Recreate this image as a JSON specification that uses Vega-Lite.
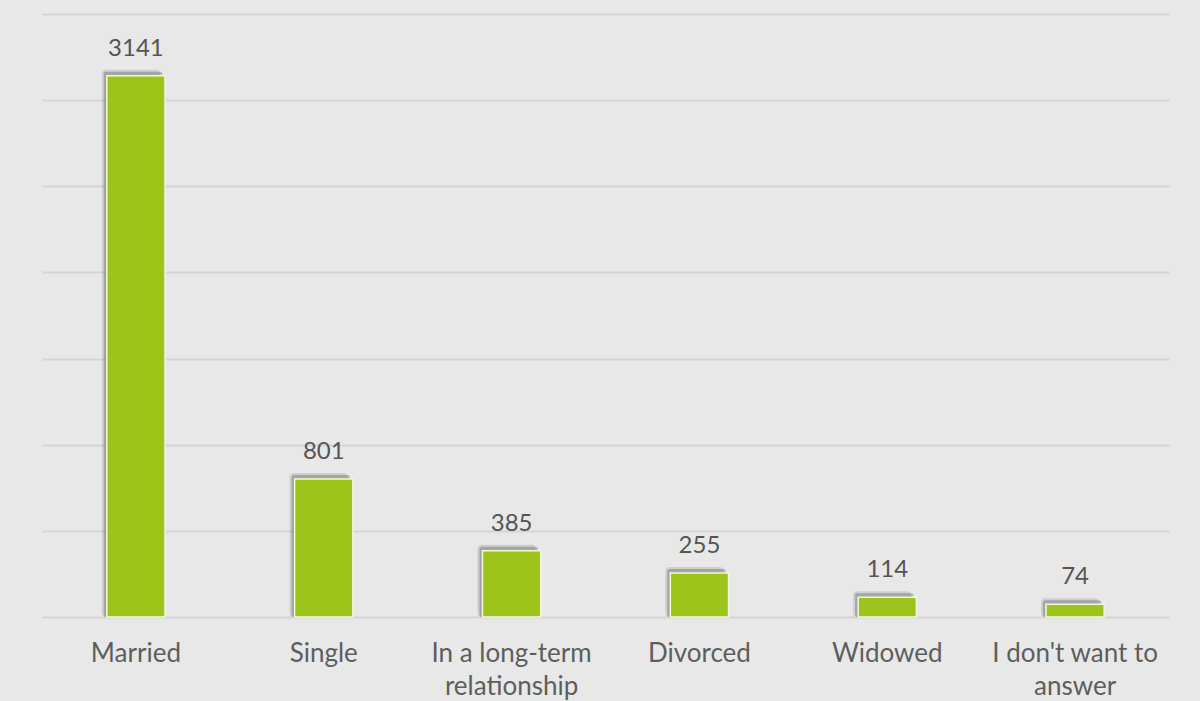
{
  "$schema": "https://vega.github.io/schema/vega-lite/v6.json",
  "width": 1127,
  "height": 603,
  "autosize": {"type": "none"},
  "padding": {"left": 42, "top": 14, "right": 31, "bottom": 84},
  "background": "#e8e8e8",
  "config": {
    "view": {"stroke": null},
    "font": "Lato"
  },
  "data": {
    "values": [
      {"status": "Married", "count": 3141},
      {"status": "Single", "count": 801},
      {"status": "In a long-term relationship", "count": 385},
      {"status": "Divorced", "count": 255},
      {"status": "Widowed", "count": 114},
      {"status": "I don't want to answer", "count": 74}
    ]
  },
  "encoding": {
    "x": {
      "field": "status",
      "type": "nominal",
      "sort": null,
      "scale": {"paddingInner": 0.69, "paddingOuter": 0.345},
      "axis": {
        "title": null,
        "labelAngle": 0,
        "domain": false,
        "ticks": false,
        "labelFont": "Lato",
        "labelFontSize": 26,
        "labelColor": "#5e5e5e",
        "labelPadding": 23,
        "labelBaseline": "top",
        "labelLineHeight": 33,
        "labelExpr": "datum.label == 'In a long-term relationship' ? ['In a long-term', 'relationship'] : datum.label == \"I don't want to answer\" ? [\"I don't want to\", 'answer'] : datum.label"
      }
    },
    "y": {
      "field": "count",
      "type": "quantitative",
      "scale": {"domain": [0, 3500], "nice": false},
      "axis": {
        "title": null,
        "labels": false,
        "ticks": false,
        "domain": false,
        "values": [0, 500, 1000, 1500, 2000, 2500, 3000, 3500],
        "gridColor": "#d4d4d4",
        "gridWidth": 2
      }
    }
  },
  "layer": [
    {
      "mark": {"type": "bar", "color": "#6a6a6a", "opacity": 0.2, "xOffset": -5, "yOffset": -6, "y2Offset": 0, "cornerRadius": 4},
      "encoding": {"y2": {"datum": 0}}
    },
    {
      "mark": {"type": "bar", "color": "#5a5a5a", "opacity": 0.35, "xOffset": -3, "yOffset": -4, "y2Offset": 0, "cornerRadius": 2},
      "encoding": {"y2": {"datum": 0}}
    },
    {
      "mark": {"type": "bar", "color": "#9cc41a", "stroke": "#f2f7dc", "strokeWidth": 1.5},
      "encoding": {"y2": {"datum": 0}}
    },
    {
      "mark": {"type": "text", "dy": -20, "baseline": "alphabetic", "fontSize": 24, "font": "Lato", "color": "#555555"},
      "encoding": {"text": {"field": "count", "type": "quantitative"}}
    }
  ]
}
